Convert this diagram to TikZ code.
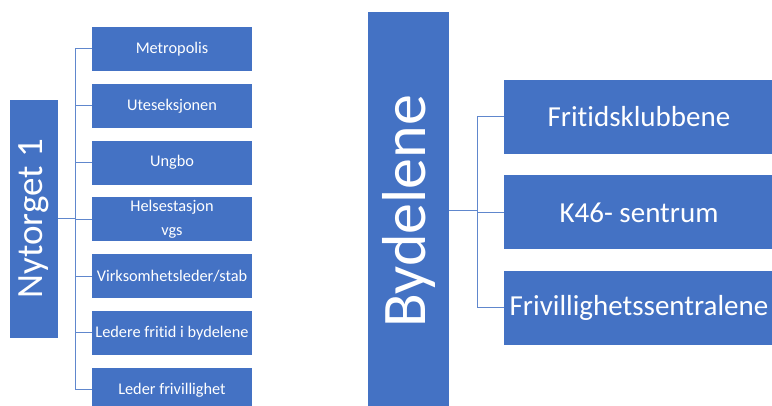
\documentclass[tikz,border=0pt]{standalone}
\usepackage{fontspec}
\setmainfont{Carlito}[Ligatures={NoCommon}]
\usetikzlibrary{positioning}
\definecolor{boxblue}{HTML}{4472C4}
\tikzstyle{head} = [fill=boxblue, text=white, inner sep=0pt]
\tikzstyle{leaf} = [fill=boxblue, text=white, minimum width=160pt, minimum height=44pt, inner sep=1pt, align=center, font=\fontsize{16.3}{24}\selectfont]
\tikzstyle{sub} = [fill=boxblue, text=white, minimum width=270pt, minimum height=74pt, inner sep=1pt, font=\fontsize{29}{34}\selectfont]
\tikzstyle{link} = [draw=boxblue!85!white, line width=1pt]

\begin{document}
\begin{tikzpicture}[x=1pt, y=-1pt, node distance=56.8pt]
  \useasboundingbox (0,0) rectangle (772,406);
  \clip (0,0) rectangle (772,406);
  % Nytorget 1
  \node[head, minimum width=48pt, minimum height=238pt, font=\fontsize{37}{37}\selectfont] (nyt) at (34,219) {\rotatebox{90}{Nytorget 1}};
  \node[leaf] (met) at (172,49) {Metropolis};
  \node[leaf, below of=met] (ute) {Uteseksjonen};
  \node[leaf, below of=ute] (ung) {Ungbo};
  \node[leaf, below of=ung] (hel) {Helsestasjon\\vgs};
  \node[leaf, below of=hel] (vir) {Virksomhetsleder/stab};
  \node[leaf, below of=vir] (led) {Ledere fritid i bydelene};
  \node[leaf, below of=led] (lfr) {Leder frivillighet};
  \foreach \n in {met,ute,ung,hel,vir,led,lfr}
    \draw[link] (nyt.east) -- ++(17,0) |- (\n.west);
  % Bydelene
  \node[head, minimum width=81pt, minimum height=398pt, font=\fontsize{62}{62}\selectfont] (byd) at (408.5,211) {\rotatebox{90}{Bydelene}};
  \node[sub] (fri) at (639,117) {Fritidsklubbene};
  \node[sub, below of=fri, node distance=95.5pt] (k46) {K46- sentrum};
  \node[sub, below of=k46, node distance=95.5pt] (fsen) {Frivillighetssentralene};
  \foreach \n in {fri,k46,fsen}
    \draw[link] (byd.east) -- ++(28,0) |- (\n.west);
\end{tikzpicture}
\end{document}
